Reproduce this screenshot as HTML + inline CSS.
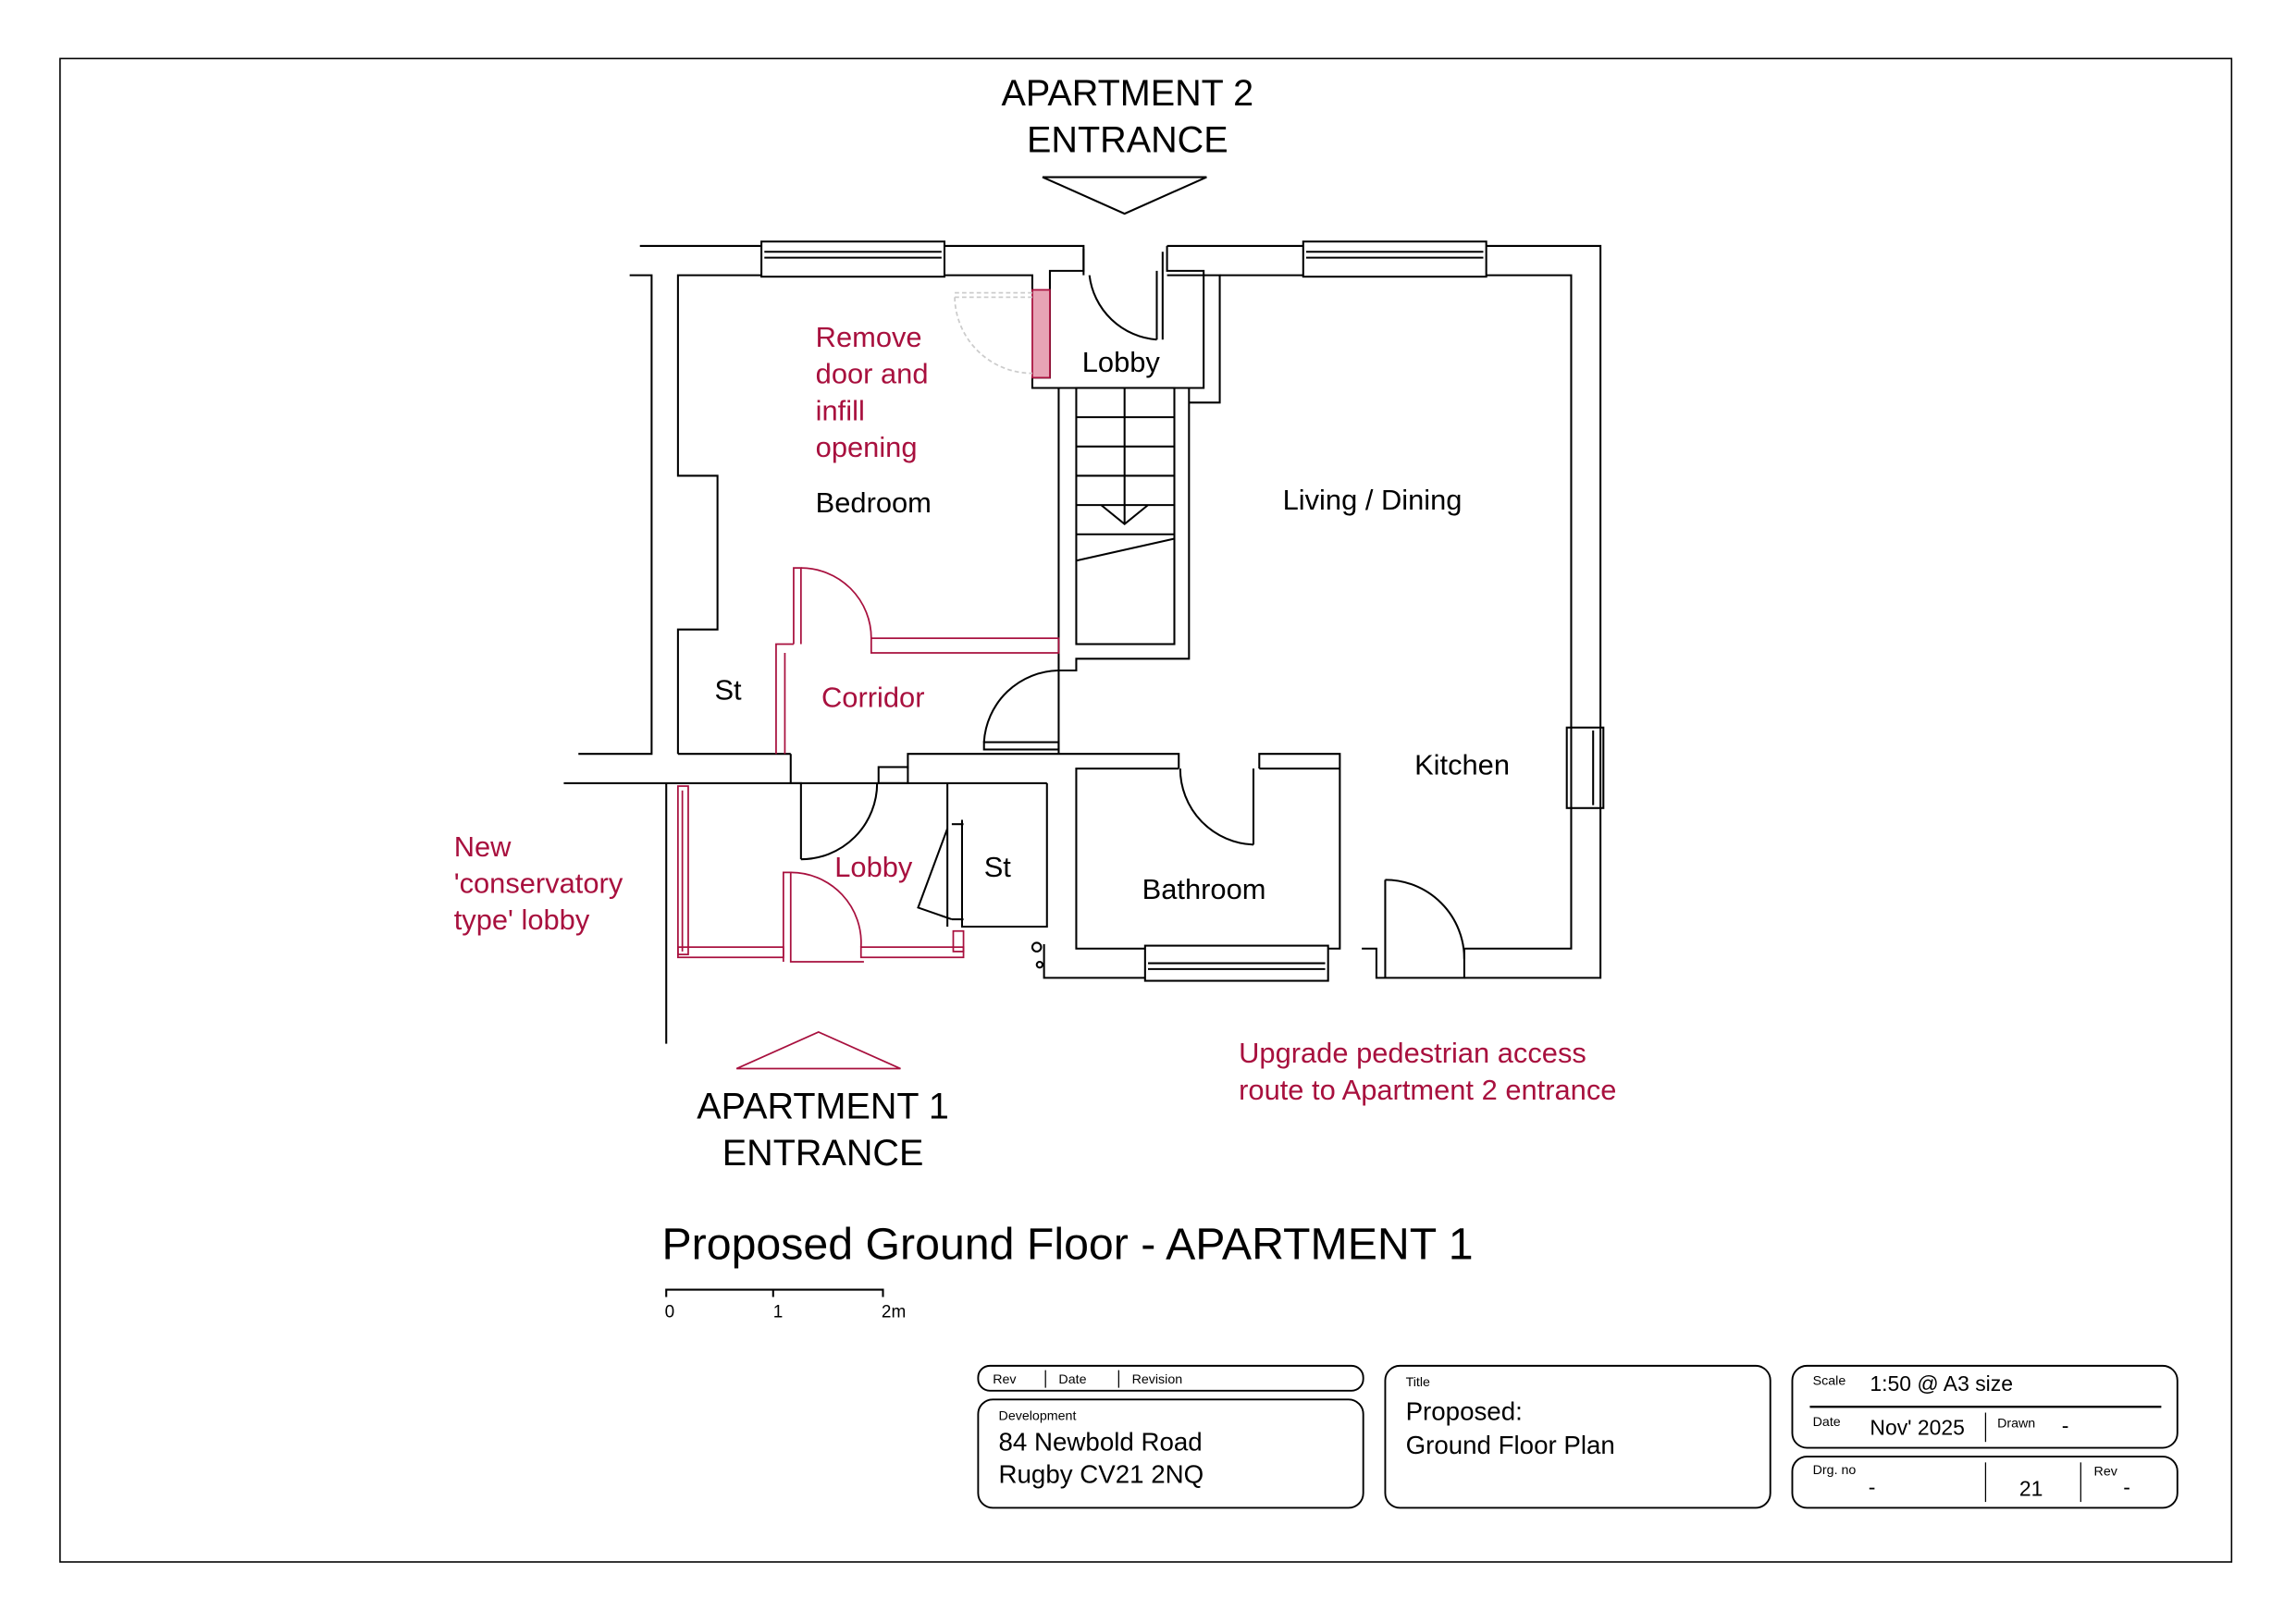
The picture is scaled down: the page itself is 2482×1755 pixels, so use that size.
<!DOCTYPE html>
<html><head><meta charset="utf-8"><style>
html,body{margin:0;padding:0;background:#fff}
svg{display:block}
text{font-family:"Liberation Sans",Arial,sans-serif}
.r{fill:#a8103e}
</style></head><body>
<svg width="2482" height="1755" viewBox="0 0 1568 1108.7" preserveAspectRatio="none" xmlns="http://www.w3.org/2000/svg">
<rect x="0" y="0" width="1568" height="1109" fill="#fff"/>
<rect x="41" y="40" width="1483" height="1027" fill="none" stroke="#000" stroke-width="1"/>
<g fill="none" stroke="#000" stroke-width="1.3">
<polyline points="437,168 520,168"/><polyline points="645,168 740,168 740,185 717,185 717,258 705,258 705,265 723,265 723,515"/>
<polyline points="797,168 890,168"/><polyline points="1015,168 1093,168 1093,668 1000,668"/>
<polyline points="463,515 463,430 490,430 490,325 463,325 463,188 520,188"/>
<polyline points="645,188 705,188 705,200"/>
<polyline points="797,168 797,185 822,185 822,265 812,265 812,450 735,450 735,458 723,458"/>
<line x1="717" y1="265" x2="822" y2="265"/>
<polyline points="797,188 833,188 833,275 812,275"/>
<polyline points="1015,188 1073,188 1073,648 1000,648"/>
<polyline points="890,188 833,188"/>
<rect x="735" y="265" width="67" height="175"/>
<line x1="768" y1="265" x2="768" y2="358"/>
<line x1="735" y1="285" x2="802" y2="285"/><line x1="735" y1="305" x2="802" y2="305"/>
<line x1="735" y1="325" x2="802" y2="325"/><line x1="735" y1="345" x2="802" y2="345"/>
<line x1="735" y1="365" x2="802" y2="365"/><polyline points="752,345 768,358 784,345"/>
<line x1="735" y1="383" x2="802" y2="368"/>
<line x1="740" y1="170" x2="740" y2="188"/><line x1="794" y1="172" x2="794" y2="232"/>
<path d="M744,188 A50,50 0 0 0 790,232"/><line x1="790" y1="185" x2="790" y2="232"/>
<polyline points="430,188 445,188 445,515 395,515"/>
<line x1="463" y1="515" x2="540" y2="515"/>
<polyline points="620,525 620,515 805,515 805,525"/>
<polyline points="860,525 860,515 915,515 915,648 907,648"/>
<line x1="385" y1="535" x2="715" y2="535"/>
<line x1="455" y1="535" x2="455" y2="713"/>
<path d="M672,507 A52,52 0 0 1 723,458"/>
<rect x="672" y="507" width="51" height="5"/>
<polyline points="782,648 735,648 735,525 805,525"/>
<path d="M806,525 A52,52 0 0 0 856,577"/><line x1="856" y1="525" x2="856" y2="577"/>
<line x1="860" y1="525" x2="915" y2="525"/>
<polyline points="715,535 715,633 657,633 657,560"/>
<line x1="647" y1="535" x2="647" y2="633"/>
<rect x="600" y="524" width="20" height="11"/>
<polyline points="540,515 540,535 547,535 547,587"/>
<path d="M547,587 A52,52 0 0 0 599,535"/>
<polyline points="650,563 658,563"/><polyline points="650,628 658,628"/>
<polyline points="647,566 627,620 650,628"/>
<circle cx="708" cy="647" r="3"/><circle cx="710" cy="659" r="2"/>
<polyline points="713,645 713,668 782,668"/>
<polyline points="930,648 940,648 940,668 1000,668 1000,648"/>
<polyline points="946,668 946,601"/>
<path d="M946,601 A54,54 0 0 1 1000,655"/>
<rect x="520" y="165" width="125" height="24"/><line x1="522" y1="172" x2="643" y2="172"/><line x1="522" y1="176" x2="643" y2="176"/>
<rect x="890" y="165" width="125" height="24"/><line x1="892" y1="172" x2="1013" y2="172"/><line x1="892" y1="176" x2="1013" y2="176"/>
<rect x="782" y="646" width="125" height="24"/><line x1="784" y1="658" x2="905" y2="658"/><line x1="784" y1="662" x2="905" y2="662"/>
<rect x="1070" y="497" width="25" height="55"/><line x1="1088" y1="499" x2="1088" y2="550"/>
<polygon points="712,121 824,121 768,146"/>
<polyline points="455,886 455,881 603,881 603,886"/><line x1="528" y1="881" x2="528" y2="886"/>
</g>
<g fill="none" stroke="#a8103e" stroke-width="1.1">
<rect x="705" y="198" width="12" height="60" fill="#e7a3b5"/>
<path d="M652,203 L705,203 M652,200 L705,200 M652,203 A53,53 0 0 0 705,255" stroke="#ccc" stroke-dasharray="3,2"/>
<polyline points="542,440 542,388 547,388 547,440"/>
<path d="M547,388 A48,48 0 0 1 595,436"/>
<rect x="595" y="436" width="128" height="10"/>
<polyline points="530,515 530,440 542,440"/><line x1="536" y1="446" x2="536" y2="515"/>
<polygon points="503,730 559,705 615,730"/>
<rect x="463" y="537" width="7" height="115"/><line x1="466" y1="540" x2="466" y2="650"/>
<rect x="463" y="647" width="72" height="7"/><rect x="588" y="647" width="70" height="7"/>
<polyline points="535,657 535,596 540,596 540,657 590,657"/>
<path d="M540,596 A48,48 0 0 1 588,647"/>
<rect x="651" y="636" width="7" height="14"/>
</g>
<g font-size="25" text-anchor="middle">
<text x="770" y="72">APARTMENT 2</text><text x="770" y="104">ENTRANCE</text>
<text x="562" y="764">APARTMENT 1</text><text x="562" y="796">ENTRANCE</text>
</g>
<g font-size="19.5">
<text x="739" y="254">Lobby</text>
<text x="557" y="350">Bedroom</text>
<text x="876" y="348">Living / Dining</text>
<text x="488" y="478">St</text>
<text x="966" y="529">Kitchen</text>
<text x="672" y="599">St</text>
<text x="780" y="614">Bathroom</text>
</g>
<g font-size="19.5" class="r">
<text x="557" y="237">Remove</text><text x="557" y="262">door and</text><text x="557" y="287">infill</text><text x="557" y="312">opening</text>
<text x="561" y="483">Corridor</text>
<text x="570" y="599">Lobby</text>
<text x="310" y="585">New</text><text x="310" y="610">'conservatory</text><text x="310" y="635">type' lobby</text>
<text x="846" y="726">Upgrade pedestrian access</text><text x="846" y="751">route to Apartment 2 entrance</text>
</g>
<text x="452" y="860" font-size="30.5">Proposed Ground Floor - APARTMENT 1</text>
<g font-size="12"><text x="454" y="900">0</text><text x="528" y="900">1</text><text x="602" y="900">2m</text></g>
<g fill="none" stroke="#000" stroke-width="1.2">
<rect x="668" y="933" width="263" height="17" rx="8"/>
<rect x="668" y="956" width="263" height="74" rx="10"/>
<rect x="946" y="933" width="263" height="97" rx="10"/>
<rect x="1224" y="933" width="263" height="56" rx="10"/>
<rect x="1224" y="995" width="263" height="35" rx="10"/>
<line x1="714" y1="936" x2="714" y2="948" stroke-width="0.8"/><line x1="764" y1="936" x2="764" y2="948" stroke-width="0.8"/>
<line x1="1236" y1="961" x2="1476" y2="961" stroke-width="1.5"/>
<line x1="1356" y1="965" x2="1356" y2="985" stroke-width="0.8"/>
<line x1="1356" y1="999" x2="1356" y2="1026" stroke-width="0.8"/><line x1="1421" y1="999" x2="1421" y2="1026" stroke-width="0.8"/>
</g>
<g font-size="9">
<text x="678" y="945">Rev</text><text x="723" y="945">Date</text><text x="773" y="945">Revision</text>
<text x="682" y="970">Development</text><text x="960" y="947">Title</text>
<text x="1238" y="946">Scale</text><text x="1238" y="974">Date</text><text x="1364" y="975">Drawn</text>
<text x="1238" y="1007">Drg. no</text><text x="1430" y="1008">Rev</text>
</g>
<g font-size="17.5">
<text x="682" y="991">84 Newbold Road</text><text x="682" y="1013">Rugby CV21 2NQ</text>
<text x="960" y="970">Proposed:</text><text x="960" y="993">Ground Floor Plan</text>
</g>
<g font-size="14.5">
<text x="1277" y="950">1:50 @ A3 size</text><text x="1277" y="980">Nov' 2025</text><text x="1408" y="979">-</text>
<text x="1276" y="1021">-</text><text x="1379" y="1022">21</text><text x="1450" y="1021">-</text>
</g>
</svg>
</body></html>
